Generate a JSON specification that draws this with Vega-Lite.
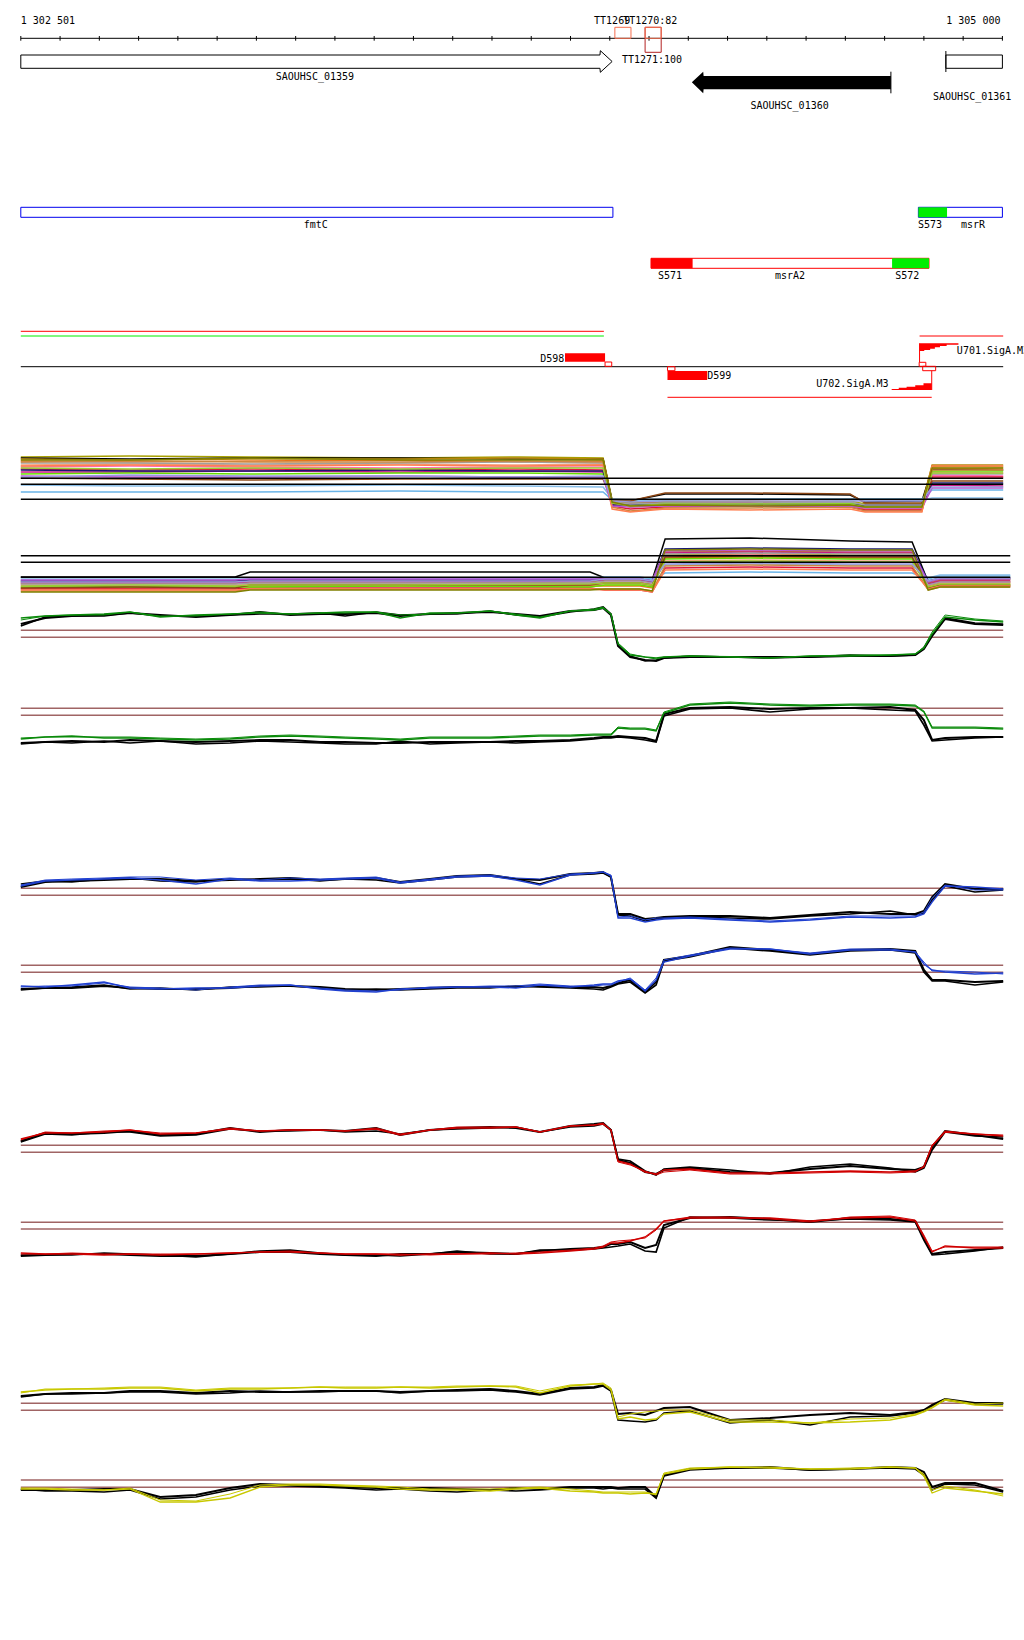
{
"$schema":"https://vega.github.io/schema/vega-lite/v6.json",
"padding":0,
"spacing":0,
"bounds":"flush",
"background":"#ffffff",
"config":{"view":{"stroke":null},"concat":{"spacing":0}},
"resolve":{"scale":{"x":"independent","y":"independent","color":"independent","strokeWidth":"independent"}},
"datasets":{
"ticks":[{"x":1302500,"v":3.6,"v2":4.07},{"x":1302600,"v":3.6,"v2":4.07},{"x":1302700,"v":3.6,"v2":4.07},{"x":1302800,"v":3.6,"v2":4.07},{"x":1302900,"v":3.6,"v2":4.07},{"x":1303000,"v":3.6,"v2":4.07},{"x":1303100,"v":3.6,"v2":4.07},{"x":1303200,"v":3.6,"v2":4.07},{"x":1303300,"v":3.6,"v2":4.07},{"x":1303400,"v":3.6,"v2":4.07},{"x":1303500,"v":3.6,"v2":4.07},{"x":1303600,"v":3.6,"v2":4.07},{"x":1303700,"v":3.6,"v2":4.07},{"x":1303800,"v":3.6,"v2":4.07},{"x":1303900,"v":3.6,"v2":4.07},{"x":1304000,"v":3.6,"v2":4.07},{"x":1304100,"v":3.6,"v2":4.07},{"x":1304200,"v":3.6,"v2":4.07},{"x":1304300,"v":3.6,"v2":4.07},{"x":1304400,"v":3.6,"v2":4.07},{"x":1304500,"v":3.6,"v2":4.07},{"x":1304600,"v":3.6,"v2":4.07},{"x":1304700,"v":3.6,"v2":4.07},{"x":1304800,"v":3.6,"v2":4.07},{"x":1304900,"v":3.6,"v2":4.07},{"x":1305000,"v":3.6,"v2":4.07}],
"segs":[
{"x":1302500,"x2":1305000,"v":3.83,"v2":3.83,"c":"k"},
{"x":1304716,"x2":1304716,"v":7.17,"v2":9.33,"c":"k"},
{"x":1304856,"x2":1304856,"v":5.1,"v2":7.2,"c":"k"},
{"x":1302500,"x2":1303985,"v":33.13,"v2":33.13,"c":"r"},
{"x":1302500,"x2":1303985,"v":33.6,"v2":33.6,"c":"g"},
{"x":1302500,"x2":1305002,"v":36.67,"v2":36.67,"c":"k"},
{"x":1304789,"x2":1305002,"v":33.6,"v2":33.6,"c":"r"},
{"x":1304789,"x2":1304789,"v":34.33,"v2":36.23,"c":"r"},
{"x":1304820,"x2":1304820,"v":37.07,"v2":39.0,"c":"r"},
{"x":1304147,"x2":1304820,"v":39.73,"v2":39.73,"c":"r"}],
"outl":[
{"x":1304090,"x2":1304131,"v":2.73,"v2":5.23,"c":"d"},
{"x":1304013,"x2":1304054,"v":2.73,"v2":3.83,"c":"o"},
{"x":1304090,"x2":1304131,"v":2.73,"v2":3.83,"c":"o"},
{"x":1304856,"x2":1305000,"v":5.5,"v2":6.83,"c":"k"},
{"x":1302500,"x2":1304008,"v":20.73,"v2":21.73,"c":"b"},
{"x":1304786,"x2":1305000,"v":20.73,"v2":21.73,"c":"b"},
{"x":1304105,"x2":1304813,"v":25.83,"v2":26.83,"c":"r"},
{"x":1303988,"x2":1304005,"v":36.2,"v2":36.63,"c":"r"},
{"x":1304147,"x2":1304166,"v":36.67,"v2":37.07,"c":"r"},
{"x":1304788,"x2":1304805,"v":36.23,"v2":36.63,"c":"r"},
{"x":1304797,"x2":1304830,"v":36.63,"v2":37.07,"c":"r"}],
"fills":[
{"x":1304786,"x2":1304859,"v":20.73,"v2":21.73,"c":"g"},
{"x":1304105,"x2":1304211,"v":25.83,"v2":26.83,"c":"r"},
{"x":1304719,"x2":1304813,"v":25.83,"v2":26.83,"c":"g"},
{"x":1303886,"x2":1303988,"v":35.33,"v2":36.17,"c":"r"},
{"x":1304147,"x2":1304248,"v":37.1,"v2":38.0,"c":"r"}],
"arrowA":[{"x":1302500,"v":5.5,"v2":6.83},{"x":1303975,"v":5.5,"v2":6.83},{"x":1303976,"v":5.07,"v2":7.23},{"x":1304006,"v":6.15,"v2":6.15}],
"arrowB":[{"x":1304209,"v":8.23,"v2":8.23},{"x":1304238,"v":7.17,"v2":9.33},{"x":1304239,"v":7.6,"v2":8.93},{"x":1304716,"v":7.6,"v2":8.93}],
"wedges":[
{"id":"U701","x":1304789,"v":34.33,"v2":35.1},{"id":"U701","x":1304801,"v":34.33,"v2":35.0},{"id":"U701","x":1304816,"v":34.33,"v2":34.87},{"id":"U701","x":1304828,"v":34.33,"v2":34.73},{"id":"U701","x":1304841,"v":34.33,"v2":34.6},{"id":"U701","x":1304858,"v":34.33,"v2":34.47},{"id":"U701","x":1304888,"v":34.33,"v2":34.47},
{"id":"U702","x":1304718,"v":38.9,"v2":39.0},{"id":"U702","x":1304736,"v":38.77,"v2":39.0},{"id":"U702","x":1304756,"v":38.67,"v2":39.0},{"id":"U702","x":1304778,"v":38.53,"v2":39.0},{"id":"U702","x":1304799,"v":38.33,"v2":39.0},{"id":"U702","x":1304820,"v":38.33,"v2":39.0}],
"labL":[
{"x":1302500,"v":2.4,"t":"1 302 501"},
{"x":1303960,"v":2.4,"t":"TT1269"},
{"x":1304034,"v":2.4,"t":"TT1270:82"},
{"x":1304031,"v":6.25,"t":"TT1271:100"},
{"x":1304785,"v":22.77,"t":"S573"},
{"x":1304123,"v":27.93,"t":"S571"},
{"x":1304727,"v":27.93,"t":"S572"},
{"x":1304248,"v":37.93,"t":"D599"},
{"x":1304884,"v":35.37,"t":"U701.SigA.M3"}],
"labC":[
{"x":1303249,"v":8.0,"t":"SAOUHSC_01359"},
{"x":1304458,"v":10.9,"t":"SAOUHSC_01360"},
{"x":1304923,"v":10.0,"t":"SAOUHSC_01361"},
{"x":1303251,"v":22.77,"t":"fmtC"},
{"x":1304925,"v":22.77,"t":"msrR"},
{"x":1304459,"v":27.93,"t":"msrA2"}],
"labR":[
{"x":1304995,"v":2.4,"t":"1 305 000"},
{"x":1303884,"v":36.17,"t":"D598"},
{"x":1304710,"v":38.67,"t":"U702.SigA.M3"}],
"thr":[
{"p":"M1","x":1302500,"x2":1305002,"v":4.87},{"p":"M1","x":1302500,"x2":1305002,"v":4.27},{"p":"M1","x":1302500,"x2":1305002,"v":2.77},
{"p":"M2","x":1302500,"x2":1305020,"v":4.23},{"p":"M2","x":1302500,"x2":1305020,"v":3.57},{"p":"M2","x":1302500,"x2":1305020,"v":2.07},
{"p":"G1","x":1302500,"x2":1305002,"v":3.97},{"p":"G1","x":1302500,"x2":1305002,"v":3.27},
{"p":"G2","x":1302500,"x2":1305002,"v":9.17},{"p":"G2","x":1302500,"x2":1305002,"v":8.47},
{"p":"B1","x":1302500,"x2":1305002,"v":4.17},{"p":"B1","x":1302500,"x2":1305002,"v":3.47},
{"p":"B2","x":1302500,"x2":1305002,"v":12.47},{"p":"B2","x":1302500,"x2":1305002,"v":11.77},
{"p":"R1","x":1302500,"x2":1305002,"v":4.47},{"p":"R1","x":1302500,"x2":1305002,"v":3.77},
{"p":"R2","x":1302500,"x2":1305002,"v":11.77},{"p":"R2","x":1302500,"x2":1305002,"v":11.1},
{"p":"Y1","x":1302500,"x2":1305002,"v":3.67},{"p":"Y1","x":1302500,"x2":1305002,"v":2.97},
{"p":"Y2","x":1302500,"x2":1305002,"v":8.0},{"p":"Y2","x":1302500,"x2":1305002,"v":7.27}],
"m1":[
{"x":1302500,"s1":7.0,"s2":6.9,"s3":6.6,"s4":6.8,"s5":6.2,"s6":6.0,"s7":5.8,"s8":5.5,"s9":5.3,"s10":3.5,"s11":4.2,"s12":5.7,"s13":6.4,"s14":4.9,"s15":6.5,"s16":5.1,"s17":6.1,"s18":5.9,"s19":5.0,"s20":6.7},
{"x":1302778,"s1":7.1,"s2":6.8,"s3":6.5,"s4":6.7,"s5":6.3,"s6":6.1,"s7":5.7,"s8":5.5,"s9":5.4,"s10":3.5,"s11":4.1,"s12":5.6,"s13":6.4,"s14":4.8,"s15":6.6,"s16":5.0,"s17":6.2,"s18":5.8,"s19":5.2,"s20":6.7},
{"x":1303084,"s1":7.0,"s2":6.9,"s3":6.6,"s4":6.8,"s5":6.2,"s6":6.0,"s7":5.8,"s8":5.6,"s9":5.3,"s10":3.5,"s11":4.1,"s12":5.6,"s13":6.3,"s14":4.7,"s15":6.5,"s16":5.0,"s17":6.1,"s18":5.9,"s19":5.1,"s20":6.9},
{"x":1303466,"s1":6.9,"s2":6.9,"s3":6.7,"s4":6.8,"s5":6.3,"s6":5.9,"s7":5.7,"s8":5.5,"s9":5.4,"s10":3.6,"s11":4.2,"s12":5.7,"s13":6.4,"s14":4.8,"s15":6.5,"s16":5.1,"s17":6.2,"s18":5.8,"s19":5.1,"s20":6.7},
{"x":1303771,"s1":7.0,"s2":6.8,"s3":6.5,"s4":6.9,"s5":6.2,"s6":6.0,"s7":5.8,"s8":5.6,"s9":5.4,"s10":3.5,"s11":4.1,"s12":5.6,"s13":6.5,"s14":4.8,"s15":6.6,"s16":5.0,"s17":6.1,"s18":5.9,"s19":5.0,"s20":6.7},
{"x":1303983,"s1":6.9,"s2":6.8,"s3":6.6,"s4":6.8,"s5":6.3,"s6":6.0,"s7":5.7,"s8":5.5,"s9":5.3,"s10":3.5,"s11":4.0,"s12":5.6,"s13":6.4,"s14":4.8,"s15":6.5,"s16":5.0,"s17":6.2,"s18":5.9,"s19":5.1,"s20":6.7},
{"x":1304006,"s1":2.7,"s2":2.6,"s3":2.4,"s4":2.5,"s5":2.3,"s6":2.2,"s7":2.1,"s8":2.3,"s9":2.4,"s10":2.7,"s11":2.8,"s12":2.2,"s13":2.5,"s14":2.6,"s15":2.0,"s16":2.1,"s17":1.8,"s18":2.4,"s19":2.6,"s20":2.5},
{"x":1304052,"s1":2.5,"s2":2.6,"s3":2.0,"s4":2.4,"s5":2.2,"s6":2.1,"s7":1.8,"s8":2.3,"s9":2.2,"s10":2.7,"s11":2.7,"s12":2.2,"s13":2.3,"s14":2.6,"s15":1.6,"s16":2.0,"s17":1.5,"s18":2.1,"s19":2.5,"s20":2.1},
{"x":1304141,"s1":2.6,"s2":3.3,"s3":2.2,"s4":2.5,"s5":2.3,"s6":2.3,"s7":2.0,"s8":2.4,"s9":2.4,"s10":2.7,"s11":2.8,"s12":2.3,"s13":2.4,"s14":3.4,"s15":1.9,"s16":2.1,"s17":1.8,"s18":2.3,"s19":2.6,"s20":2.2},
{"x":1304357,"s1":2.5,"s2":3.3,"s3":2.1,"s4":2.6,"s5":2.2,"s6":2.3,"s7":2.1,"s8":2.4,"s9":2.3,"s10":2.8,"s11":2.8,"s12":2.3,"s13":2.4,"s14":3.4,"s15":1.9,"s16":2.1,"s17":1.7,"s18":2.3,"s19":2.6,"s20":2.1},
{"x":1304612,"s1":2.6,"s2":3.2,"s3":2.2,"s4":2.4,"s5":2.3,"s6":2.2,"s7":2.0,"s8":2.3,"s9":2.4,"s10":2.8,"s11":2.7,"s12":2.2,"s13":2.5,"s14":3.3,"s15":2.0,"s16":2.1,"s17":1.8,"s18":2.3,"s19":2.6,"s20":2.2},
{"x":1304650,"s1":2.3,"s2":2.5,"s3":1.8,"s4":2.1,"s5":1.9,"s6":2.0,"s7":1.7,"s8":2.2,"s9":2.1,"s10":2.8,"s11":2.7,"s12":2.2,"s13":2.2,"s14":2.4,"s15":1.6,"s16":1.9,"s17":1.5,"s18":2.0,"s19":2.6,"s20":2.0},
{"x":1304795,"s1":2.3,"s2":2.6,"s3":1.8,"s4":2.2,"s5":1.9,"s6":2.0,"s7":1.7,"s8":2.2,"s9":2.1,"s10":2.8,"s11":2.7,"s12":2.2,"s13":2.2,"s14":2.4,"s15":1.6,"s16":1.9,"s17":1.5,"s18":2.0,"s19":2.6,"s20":2.0},
{"x":1304821,"s1":6.1,"s2":5.8,"s3":5.9,"s4":6.2,"s5":5.5,"s6":5.2,"s7":5.0,"s8":4.2,"s9":5.6,"s10":3.7,"s11":2.9,"s12":4.4,"s13":5.3,"s14":4.6,"s15":5.7,"s16":3.9,"s17":6.1,"s18":5.4,"s19":4.0,"s20":5.9},
{"x":1305002,"s1":6.0,"s2":5.7,"s3":5.8,"s4":6.2,"s5":5.4,"s6":5.1,"s7":5.0,"s8":4.1,"s9":5.6,"s10":3.7,"s11":2.9,"s12":4.4,"s13":5.3,"s14":4.6,"s15":5.7,"s16":3.9,"s17":6.1,"s18":5.4,"s19":4.0,"s20":5.9}],
"m2":[
{"x":1302500,"s1":1.4,"s2":2.1,"s3":1.0,"s4":1.6,"s5":1.3,"s6":1.2,"s7":0.9,"s8":1.5,"s9":1.1,"s10":1.8,"s11":2.0,"s12":1.7,"s13":1.4,"s14":1.0,"s15":0.7,"s16":1.8,"s17":0.8,"s18":1.2,"s19":1.6,"s20":0.6},
{"x":1302778,"s1":1.5,"s2":2.1,"s3":1.0,"s4":1.6,"s5":1.2,"s6":1.2,"s7":0.9,"s8":1.5,"s9":1.1,"s10":1.8,"s11":2.0,"s12":1.7,"s13":1.4,"s14":1.1,"s15":0.7,"s16":1.8,"s17":0.8,"s18":1.3,"s19":1.6,"s20":0.6},
{"x":1303046,"s1":1.4,"s2":2.1,"s3":1.1,"s4":1.6,"s5":1.3,"s6":1.2,"s7":0.9,"s8":1.5,"s9":1.1,"s10":1.8,"s11":2.0,"s12":1.7,"s13":1.4,"s14":1.0,"s15":0.7,"s16":1.8,"s17":0.8,"s18":1.2,"s19":1.6,"s20":0.6},
{"x":1303084,"s1":1.5,"s2":2.6,"s3":1.2,"s4":1.7,"s5":1.4,"s6":1.3,"s7":1.0,"s8":1.6,"s9":1.1,"s10":1.9,"s11":2.0,"s12":1.8,"s13":1.5,"s14":1.3,"s15":0.9,"s16":1.9,"s17":0.9,"s18":1.3,"s19":1.7,"s20":0.8},
{"x":1303466,"s1":1.5,"s2":2.6,"s3":1.2,"s4":1.7,"s5":1.4,"s6":1.3,"s7":1.0,"s8":1.6,"s9":1.2,"s10":1.9,"s11":2.0,"s12":1.8,"s13":1.5,"s14":1.3,"s15":0.9,"s16":1.9,"s17":0.9,"s18":1.3,"s19":1.7,"s20":0.8},
{"x":1303950,"s1":1.6,"s2":2.6,"s3":1.2,"s4":1.8,"s5":1.4,"s6":1.4,"s7":1.0,"s8":1.7,"s9":1.1,"s10":1.9,"s11":2.1,"s12":1.8,"s13":1.5,"s14":1.3,"s15":0.9,"s16":1.9,"s17":0.9,"s18":1.4,"s19":1.7,"s20":0.8},
{"x":1303988,"s1":1.8,"s2":2.0,"s3":1.2,"s4":2.0,"s5":1.4,"s6":1.6,"s7":0.8,"s8":1.8,"s9":1.3,"s10":2.1,"s11":2.0,"s12":1.9,"s13":1.7,"s14":1.5,"s15":0.9,"s16":1.9,"s17":0.8,"s18":1.5,"s19":1.9,"s20":0.9},
{"x":1304077,"s1":1.8,"s2":2.0,"s3":1.2,"s4":2.0,"s5":1.4,"s6":1.6,"s7":0.8,"s8":1.8,"s9":1.3,"s10":2.1,"s11":2.0,"s12":1.9,"s13":1.7,"s14":1.5,"s15":0.9,"s16":1.9,"s17":0.8,"s18":1.5,"s19":1.9,"s20":0.9},
{"x":1304108,"s1":1.6,"s2":1.8,"s3":1.0,"s4":1.8,"s5":1.2,"s6":1.4,"s7":0.6,"s8":1.6,"s9":1.1,"s10":1.9,"s11":1.8,"s12":1.7,"s13":1.5,"s14":1.3,"s15":0.7,"s16":1.7,"s17":0.6,"s18":1.3,"s19":1.7,"s20":0.7},
{"x":1304141,"s1":4.3,"s2":5.9,"s3":4.0,"s4":4.6,"s5":3.7,"s6":4.2,"s7":3.0,"s8":4.5,"s9":3.9,"s10":2.5,"s11":3.3,"s12":4.9,"s13":4.4,"s14":4.1,"s15":3.2,"s16":4.7,"s17":2.8,"s18":3.6,"s19":3.4,"s20":4.8},
{"x":1304357,"s1":4.4,"s2":6.0,"s3":4.1,"s4":4.7,"s5":3.8,"s6":4.3,"s7":3.1,"s8":4.6,"s9":4.0,"s10":2.6,"s11":3.4,"s12":5.0,"s13":4.5,"s14":4.2,"s15":3.3,"s16":4.8,"s17":2.9,"s18":3.7,"s19":3.5,"s20":4.9},
{"x":1304612,"s1":4.3,"s2":5.7,"s3":4.0,"s4":4.6,"s5":3.7,"s6":4.2,"s7":3.0,"s8":4.5,"s9":3.9,"s10":2.5,"s11":3.3,"s12":4.9,"s13":4.4,"s14":4.1,"s15":3.2,"s16":4.7,"s17":2.8,"s18":3.6,"s19":3.4,"s20":4.8},
{"x":1304770,"s1":4.3,"s2":5.6,"s3":4.0,"s4":4.6,"s5":3.7,"s6":4.2,"s7":3.0,"s8":4.5,"s9":3.9,"s10":2.5,"s11":3.3,"s12":4.9,"s13":4.4,"s14":4.1,"s15":3.2,"s16":4.7,"s17":2.8,"s18":3.6,"s19":3.4,"s20":4.8},
{"x":1304811,"s1":1.3,"s2":1.6,"s3":1.2,"s4":1.5,"s5":1.1,"s6":1.3,"s7":0.9,"s8":1.4,"s9":1.0,"s10":1.9,"s11":2.0,"s12":1.7,"s13":1.3,"s14":1.0,"s15":0.8,"s16":1.6,"s17":0.9,"s18":1.1,"s19":1.7,"s20":0.8},
{"x":1304841,"s1":1.6,"s2":1.9,"s3":1.5,"s4":1.8,"s5":1.4,"s6":1.6,"s7":1.2,"s8":1.7,"s9":1.3,"s10":2.2,"s11":2.3,"s12":2.0,"s13":1.6,"s14":1.3,"s15":1.1,"s16":1.9,"s17":1.2,"s18":1.4,"s19":2.0,"s20":1.1},
{"x":1305020,"s1":1.6,"s2":1.9,"s3":1.5,"s4":1.8,"s5":1.4,"s6":1.6,"s7":1.2,"s8":1.7,"s9":1.3,"s10":2.2,"s11":2.3,"s12":2.0,"s13":1.6,"s14":1.3,"s15":1.1,"s16":1.9,"s17":1.2,"s18":1.4,"s19":2.0,"s20":1.1}],
"tr":[
{"x":1302500,"G1k":4.6,"G1t":4.4,"G1u":5.2,"G1c":5.0,"G2k":5.7,"G2t":5.6,"G2u":6.1,"G2c":6.2,"B1k":4.3,"B1t":4.6,"B1u":4.4,"B1c":4.5,"B2k":10.1,"B2t":10.0,"B2u":10.4,"B2c":10.3,"R1k":4.9,"R1t":4.8,"R1u":5.1,"R1c":5.0,"R2k":8.4,"R2t":8.5,"R2u":8.7,"R2c":8.6,"Y1k":4.4,"Y1t":4.3,"Y1u":4.8,"Y1c":4.7,"Y2k":7.0,"Y2t":7.1,"Y2u":7.1,"Y2c":7.2},
{"x":1302562,"G1k":5.2,"G1t":5.3,"G1u":5.4,"G1c":5.4,"G2k":5.8,"G2t":5.8,"G2u":6.3,"G2c":6.3,"B1k":4.8,"B1t":4.9,"B1u":4.9,"B1c":5.0,"B2k":10.2,"B2t":10.2,"B2u":10.3,"B2c":10.4,"R1k":5.7,"R1t":5.6,"R1u":5.7,"R1c":5.8,"R2k":8.5,"R2t":8.5,"R2u":8.6,"R2c":8.6,"Y1k":4.6,"Y1t":4.6,"Y1u":5.0,"Y1c":5.1,"Y2k":7.0,"Y2t":6.9,"Y2u":7.1,"Y2c":7.2},
{"x":1302630,"G1k":5.4,"G1t":5.4,"G1u":5.5,"G1c":5.5,"G2k":5.9,"G2t":5.7,"G2u":6.4,"G2c":6.3,"B1k":4.9,"B1t":4.8,"B1u":5.0,"B1c":5.1,"B2k":10.2,"B2t":10.3,"B2u":10.5,"B2c":10.4,"R1k":5.6,"R1t":5.5,"R1u":5.7,"R1c":5.7,"R2k":8.6,"R2t":8.5,"R2u":8.6,"R2c":8.7,"Y1k":4.7,"Y1t":4.6,"Y1u":5.1,"Y1c":5.1,"Y2k":7.0,"Y2t":6.9,"Y2u":7.0,"Y2c":7.1},
{"x":1302712,"G1k":5.5,"G1t":5.4,"G1u":5.6,"G1c":5.5,"G2k":5.8,"G2t":5.9,"G2u":6.2,"G2c":6.3,"B1k":5.0,"B1t":5.1,"B1u":5.1,"B1c":5.2,"B2k":10.4,"B2t":10.5,"B2u":10.8,"B2c":10.7,"R1k":5.7,"R1t":5.8,"R1u":5.8,"R1c":5.9,"R2k":8.6,"R2t":8.7,"R2u":8.5,"R2c":8.6,"Y1k":4.7,"Y1t":4.7,"Y1u":5.1,"Y1c":5.2,"Y2k":7.1,"Y2t":6.8,"Y2u":7.0,"Y2c":7.0},
{"x":1302778,"G1k":5.7,"G1t":5.7,"G1u":5.8,"G1c":5.8,"G2k":6.0,"G2t":5.7,"G2u":6.2,"G2c":6.3,"B1k":5.1,"B1t":5.2,"B1u":5.2,"B1c":5.3,"B2k":10.2,"B2t":10.1,"B2u":10.2,"B2c":10.3,"R1k":5.9,"R1t":5.8,"R1u":6.0,"R1c":6.0,"R2k":8.5,"R2t":8.6,"R2u":8.6,"R2c":8.6,"Y1k":4.9,"Y1t":4.8,"Y1u":5.2,"Y1c":5.3,"Y2k":7.1,"Y2t":7.0,"Y2u":7.1,"Y2c":7.2},
{"x":1302855,"G1k":5.5,"G1t":5.4,"G1u":5.3,"G1c":5.4,"G2k":5.9,"G2t":5.9,"G2u":6.1,"G2c":6.2,"B1k":5.1,"B1t":4.9,"B1u":5.0,"B1c":5.3,"B2k":10.1,"B2t":10.2,"B2u":10.1,"B2c":10.2,"R1k":5.5,"R1t":5.4,"R1u":5.6,"R1c":5.7,"R2k":8.4,"R2t":8.5,"R2u":8.5,"R2c":8.6,"Y1k":4.9,"Y1t":4.8,"Y1u":5.2,"Y1c":5.3,"Y2k":6.3,"Y2t":6.1,"Y2u":5.8,"Y2c":6.0},
{"x":1302946,"G1k":5.3,"G1t":5.4,"G1u":5.5,"G1c":5.4,"G2k":5.8,"G2t":5.6,"G2u":6.0,"G2c":6.1,"B1k":4.9,"B1t":4.8,"B1u":4.6,"B1c":5.0,"B2k":10.1,"B2t":10.0,"B2u":10.2,"B2c":10.0,"R1k":5.6,"R1t":5.5,"R1u":5.7,"R1c":5.7,"R2k":8.4,"R2t":8.3,"R2u":8.6,"R2c":8.6,"Y1k":4.7,"Y1t":4.6,"Y1u":4.9,"Y1c":5.0,"Y2k":6.5,"Y2t":6.3,"Y2u":5.8,"Y2c":5.9},
{"x":1303033,"G1k":5.5,"G1t":5.5,"G1u":5.6,"G1c":5.6,"G2k":5.9,"G2t":5.7,"G2u":6.1,"G2c":6.2,"B1k":5.0,"B1t":5.1,"B1u":5.1,"B1c":5.2,"B2k":10.2,"B2t":10.3,"B2u":10.2,"B2c":10.3,"R1k":6.2,"R1t":6.1,"R1u":6.1,"R1c":6.2,"R2k":8.6,"R2t":8.6,"R2u":8.7,"R2c":8.7,"Y1k":4.9,"Y1t":4.7,"Y1u":5.1,"Y1c":5.2,"Y2k":7.2,"Y2t":7.0,"Y2u":6.2,"Y2c":6.6},
{"x":1303109,"G1k":5.8,"G1t":5.6,"G1u":5.7,"G1c":5.8,"G2k":6.0,"G2t":5.9,"G2u":6.3,"G2c":6.4,"B1k":5.1,"B1t":5.0,"B1u":4.9,"B1c":5.0,"B2k":10.4,"B2t":10.3,"B2u":10.4,"B2c":10.5,"R1k":5.8,"R1t":5.9,"R1u":5.9,"R1c":5.9,"R2k":8.8,"R2t":8.9,"R2u":8.8,"R2c":8.8,"Y1k":4.8,"Y1t":4.9,"Y1u":5.1,"Y1c":5.2,"Y2k":7.6,"Y2t":7.4,"Y2u":7.3,"Y2c":7.5},
{"x":1303186,"G1k":5.5,"G1t":5.6,"G1u":5.6,"G1c":5.6,"G2k":6.0,"G2t":5.8,"G2u":6.4,"G2c":6.5,"B1k":5.2,"B1t":5.1,"B1u":4.9,"B1c":5.2,"B2k":10.4,"B2t":10.4,"B2u":10.5,"B2c":10.5,"R1k":6.0,"R1t":5.9,"R1u":6.0,"R1c":6.0,"R2k":8.8,"R2t":9.0,"R2u":8.8,"R2c":8.9,"Y1k":4.8,"Y1t":4.8,"Y1u":5.2,"Y1c":5.2,"Y2k":7.5,"Y2t":7.4,"Y2u":7.5,"Y2c":7.6},
{"x":1303262,"G1k":5.6,"G1t":5.7,"G1u":5.7,"G1c":5.7,"G2k":5.8,"G2t":5.7,"G2u":6.3,"G2c":6.4,"B1k":5.0,"B1t":4.9,"B1u":5.0,"B1c":5.1,"B2k":10.3,"B2t":10.2,"B2u":10.1,"B2c":10.2,"R1k":6.0,"R1t":6.0,"R1u":6.0,"R1c":6.0,"R2k":8.6,"R2t":8.7,"R2u":8.7,"R2c":8.7,"Y1k":4.9,"Y1t":4.8,"Y1u":5.3,"Y1c":5.3,"Y2k":7.4,"Y2t":7.3,"Y2u":7.5,"Y2c":7.6},
{"x":1303326,"G1k":5.6,"G1t":5.4,"G1u":5.8,"G1c":5.7,"G2k":5.8,"G2t":5.6,"G2u":6.2,"G2c":6.3,"B1k":5.1,"B1t":5.1,"B1u":5.1,"B1c":5.2,"B2k":10.1,"B2t":10.0,"B2u":9.9,"B2c":10.0,"R1k":5.9,"R1t":5.8,"R1u":5.9,"R1c":5.9,"R2k":8.5,"R2t":8.5,"R2u":8.6,"R2c":8.6,"Y1k":4.9,"Y1t":4.9,"Y1u":5.2,"Y1c":5.3,"Y2k":7.3,"Y2t":7.2,"Y2u":7.4,"Y2c":7.5},
{"x":1303405,"G1k":5.7,"G1t":5.8,"G1u":5.8,"G1c":5.8,"G2k":5.7,"G2t":5.6,"G2u":6.1,"G2c":6.2,"B1k":5.2,"B1t":5.0,"B1u":5.2,"B1c":5.3,"B2k":10.0,"B2t":10.1,"B2u":9.8,"B2c":9.9,"R1k":6.2,"R1t":5.9,"R1u":6.1,"R1c":6.2,"R2k":8.4,"R2t":8.5,"R2u":8.6,"R2c":8.6,"Y1k":4.9,"Y1t":4.9,"Y1u":5.2,"Y1c":5.3,"Y2k":7.2,"Y2t":7.0,"Y2u":7.3,"Y2c":7.4},
{"x":1303466,"G1k":5.4,"G1t":5.5,"G1u":5.2,"G1c":5.5,"G2k":5.7,"G2t":5.9,"G2u":6.0,"G2c":6.1,"B1k":4.8,"B1t":4.7,"B1u":4.7,"B1c":4.8,"B2k":10.1,"B2t":10.0,"B2u":10.1,"B2c":10.0,"R1k":5.5,"R1t":5.6,"R1u":5.5,"R1c":5.6,"R2k":8.6,"R2t":8.4,"R2u":8.5,"R2c":8.6,"Y1k":4.8,"Y1t":4.7,"Y1u":5.3,"Y1c":5.3,"Y2k":7.2,"Y2t":7.1,"Y2u":7.1,"Y2c":7.3},
{"x":1303542,"G1k":5.6,"G1t":5.6,"G1u":5.7,"G1c":5.6,"G2k":5.8,"G2t":5.6,"G2u":6.2,"G2c":6.3,"B1k":5.1,"B1t":5.0,"B1u":5.0,"B1c":5.1,"B2k":10.2,"B2t":10.1,"B2u":10.2,"B2c":10.3,"R1k":6.0,"R1t":6.0,"R1u":6.0,"R1c":6.0,"R2k":8.6,"R2t":8.6,"R2u":8.6,"R2c":8.5,"Y1k":4.9,"Y1t":4.9,"Y1u":5.2,"Y1c":5.3,"Y2k":7.2,"Y2t":6.9,"Y2u":7.0,"Y2c":7.1},
{"x":1303611,"G1k":5.7,"G1t":5.6,"G1u":5.7,"G1c":5.7,"G2k":5.8,"G2t":5.7,"G2u":6.2,"G2c":6.3,"B1k":5.4,"B1t":5.3,"B1u":5.3,"B1c":5.4,"B2k":10.3,"B2t":10.2,"B2u":10.3,"B2c":10.3,"R1k":6.2,"R1t":6.1,"R1u":6.2,"R1c":6.3,"R2k":8.8,"R2t":8.9,"R2u":8.6,"R2c":8.6,"Y1k":5.0,"Y1t":4.9,"Y1u":5.3,"Y1c":5.4,"Y2k":7.1,"Y2t":6.8,"Y2u":7.0,"Y2c":7.1},
{"x":1303695,"G1k":5.8,"G1t":5.9,"G1u":5.9,"G1c":5.9,"G2k":5.8,"G2t":5.8,"G2u":6.2,"G2c":6.3,"B1k":5.5,"B1t":5.4,"B1u":5.4,"B1c":5.5,"B2k":10.3,"B2t":10.2,"B2u":10.3,"B2c":10.4,"R1k":6.3,"R1t":6.2,"R1u":6.2,"R1c":6.3,"R2k":8.7,"R2t":8.6,"R2u":8.7,"R2c":8.6,"Y1k":5.1,"Y1t":5.0,"Y1u":5.4,"Y1c":5.4,"Y2k":7.0,"Y2t":7.0,"Y2u":6.9,"Y2c":7.1},
{"x":1303761,"G1k":5.6,"G1t":5.5,"G1u":5.5,"G1c":5.6,"G2k":5.9,"G2t":5.7,"G2u":6.3,"G2c":6.4,"B1k":5.1,"B1t":5.1,"B1u":5.0,"B1c":5.2,"B2k":10.3,"B2t":10.4,"B2u":10.2,"B2c":10.4,"R1k":6.2,"R1t":6.3,"R1u":6.3,"R1c":6.3,"R2k":8.6,"R2t":8.6,"R2u":8.6,"R2c":8.7,"Y1k":4.9,"Y1t":4.8,"Y1u":5.3,"Y1c":5.4,"Y2k":7.2,"Y2t":6.9,"Y2u":7.1,"Y2c":7.2},
{"x":1303822,"G1k":5.4,"G1t":5.3,"G1u":5.2,"G1c":5.3,"G2k":5.9,"G2t":5.8,"G2u":6.4,"G2c":6.5,"B1k":5.0,"B1t":4.6,"B1u":4.5,"B1c":5.1,"B2k":10.4,"B2t":10.3,"B2u":10.5,"B2c":10.6,"R1k":5.8,"R1t":5.8,"R1u":5.8,"R1c":5.8,"R2k":8.9,"R2t":9.0,"R2u":8.7,"R2c":8.8,"Y1k":4.6,"Y1t":4.5,"Y1u":4.7,"Y1c":4.9,"Y2k":7.1,"Y2t":7.0,"Y2u":7.2,"Y2c":7.3},
{"x":1303899,"G1k":5.9,"G1t":5.8,"G1u":5.9,"G1c":5.9,"G2k":6.0,"G2t":5.9,"G2u":6.4,"G2c":6.5,"B1k":5.6,"B1t":5.5,"B1u":5.5,"B1c":5.6,"B2k":10.3,"B2t":10.2,"B2u":10.3,"B2c":10.4,"R1k":6.4,"R1t":6.3,"R1u":6.4,"R1c":6.4,"R2k":9.1,"R2t":9.0,"R2u":8.9,"R2c":9.0,"Y1k":5.2,"Y1t":5.1,"Y1u":5.4,"Y1c":5.5,"Y2k":7.3,"Y2t":7.2,"Y2u":6.9,"Y2c":7.1},
{"x":1303960,"G1k":6.0,"G1t":6.1,"G1u":6.0,"G1c":6.1,"G2k":6.2,"G2t":6.1,"G2u":6.5,"G2c":6.6,"B1k":5.7,"B1t":5.6,"B1u":5.7,"B1c":5.7,"B2k":10.3,"B2t":10.1,"B2u":10.5,"B2c":10.4,"R1k":6.6,"R1t":6.4,"R1u":6.5,"R1c":6.5,"R2k":9.2,"R2t":9.1,"R2u":9.1,"R2c":9.2,"Y1k":5.3,"Y1t":5.2,"Y1u":5.6,"Y1c":5.6,"Y2k":7.3,"Y2t":7.2,"Y2u":6.8,"Y2c":6.9},
{"x":1303983,"G1k":6.2,"G1t":6.3,"G1u":6.2,"G1c":6.3,"G2k":6.3,"G2t":6.2,"G2u":6.5,"G2c":6.6,"B1k":5.8,"B1t":5.7,"B1u":5.8,"B1c":5.8,"B2k":10.2,"B2t":10.0,"B2u":10.6,"B2c":10.5,"R1k":6.7,"R1t":6.6,"R1u":6.6,"R1c":6.7,"R2k":9.3,"R2t":9.2,"R2u":9.3,"R2c":9.4,"Y1k":5.5,"Y1t":5.4,"Y1u":5.6,"Y1c":5.7,"Y2k":7.3,"Y2t":7.1,"Y2u":6.7,"Y2c":6.8},
{"x":1304003,"G1k":5.5,"G1t":5.6,"G1u":5.6,"G1c":5.6,"G2k":6.3,"G2t":6.2,"G2u":6.5,"G2c":6.6,"B1k":5.3,"B1t":5.3,"B1u":5.4,"B1c":5.5,"B2k":10.4,"B2t":10.3,"B2u":10.6,"B2c":10.5,"R1k":6.0,"R1t":6.0,"R1u":6.0,"R1c":6.0,"R2k":9.6,"R2t":9.3,"R2u":9.7,"R2c":9.8,"Y1k":5.0,"Y1t":4.9,"Y1u":5.0,"Y1c":5.2,"Y2k":7.3,"Y2t":7.2,"Y2u":6.7,"Y2c":6.8},
{"x":1304021,"G1k":2.4,"G1t":2.5,"G1u":2.6,"G1c":2.7,"G2k":6.4,"G2t":6.3,"G2u":7.2,"G2c":7.3,"B1k":1.6,"B1t":1.5,"B1u":1.2,"B1c":1.3,"B2k":10.7,"B2t":10.6,"B2u":10.9,"B2c":10.8,"R1k":3.0,"R1t":3.1,"R1u":2.9,"R1c":2.8,"R2k":9.6,"R2t":9.4,"R2u":9.7,"R2c":9.9,"Y1k":2.6,"Y1t":2.0,"Y1u":2.1,"Y1c":2.3,"Y2k":7.2,"Y2t":7.1,"Y2u":6.7,"Y2c":6.8},
{"x":1304052,"G1k":1.3,"G1t":1.4,"G1u":1.5,"G1c":1.6,"G2k":6.3,"G2t":6.2,"G2u":7.1,"G2c":7.2,"B1k":1.6,"B1t":1.4,"B1u":1.2,"B1c":1.4,"B2k":11.0,"B2t":10.8,"B2u":11.1,"B2c":11.2,"R1k":2.7,"R1t":2.9,"R1u":2.6,"R1c":2.5,"R2k":9.8,"R2t":9.6,"R2u":9.9,"R2c":10.0,"Y1k":2.7,"Y1t":1.9,"Y1u":2.3,"Y1c":2.6,"Y2k":7.3,"Y2t":7.1,"Y2u":6.6,"Y2c":6.8},
{"x":1304090,"G1k":1.0,"G1t":0.9,"G1u":1.3,"G1c":1.3,"G2k":6.2,"G2t":6.0,"G2u":7.1,"G2c":7.2,"B1k":1.1,"B1t":0.9,"B1u":0.8,"B1c":1.0,"B2k":9.8,"B2t":9.7,"B2u":9.9,"B2c":10.0,"R1k":1.8,"R1t":1.9,"R1u":1.8,"R1c":1.9,"R2k":9.2,"R2t":8.9,"R2u":10.3,"R2c":10.2,"Y1k":2.5,"Y1t":1.8,"Y1u":2.0,"Y1c":2.8,"Y2k":7.3,"Y2t":7.1,"Y2u":6.7,"Y2c":6.8},
{"x":1304118,"G1k":0.9,"G1t":1.0,"G1u":1.2,"G1c":1.1,"G2k":5.9,"G2t":5.8,"G2u":6.9,"G2c":7.0,"B1k":1.2,"B1t":1.1,"B1u":1.0,"B1c":1.2,"B2k":10.8,"B2t":10.5,"B2u":11.0,"B2c":11.2,"R1k":1.6,"R1t":1.5,"R1u":1.6,"R1c":1.5,"R2k":9.5,"R2t":8.8,"R2u":11.1,"R2c":11.0,"Y1k":2.9,"Y1t":2.0,"Y1u":2.1,"Y1c":2.9,"Y2k":6.3,"Y2t":6.2,"Y2u":6.6,"Y2c":6.5},
{"x":1304138,"G1k":1.2,"G1t":1.2,"G1u":1.3,"G1c":1.3,"G2k":8.6,"G2t":8.4,"G2u":8.7,"G2c":8.8,"B1k":1.3,"B1t":1.2,"B1u":1.1,"B1c":1.2,"B2k":13.0,"B2t":12.9,"B2u":12.8,"B2c":13.0,"R1k":2.0,"R1t":2.1,"R1u":2.0,"R1c":1.8,"R2k":11.5,"R2t":11.2,"R2u":11.9,"R2c":11.9,"Y1k":3.2,"Y1t":2.7,"Y1u":2.6,"Y1c":3.0,"Y2k":8.5,"Y2t":8.4,"Y2u":8.6,"Y2c":8.7},
{"x":1304204,"G1k":1.3,"G1t":1.4,"G1u":1.4,"G1c":1.4,"G2k":9.2,"G2t":9.1,"G2u":9.5,"G2c":9.6,"B1k":1.4,"B1t":1.3,"B1u":1.2,"B1c":1.3,"B2k":13.4,"B2t":13.3,"B2u":13.4,"B2c":13.5,"R1k":2.2,"R1t":2.3,"R1u":2.1,"R1c":2.0,"R2k":12.2,"R2t":12.3,"R2u":12.2,"R2c":12.3,"Y1k":3.3,"Y1t":2.9,"Y1u":2.8,"Y1c":3.0,"Y2k":9.1,"Y2t":9.0,"Y2u":9.1,"Y2c":9.2},
{"x":1304306,"G1k":1.3,"G1t":1.3,"G1u":1.3,"G1c":1.35,"G2k":9.3,"G2t":9.2,"G2u":9.7,"G2c":9.8,"B1k":1.4,"B1t":1.2,"B1u":1.0,"B1c":1.1,"B2k":14.3,"B2t":14.2,"B2u":14.1,"B2c":14.2,"R1k":1.8,"R1t":2.0,"R1u":1.7,"R1c":1.6,"R2k":12.3,"R2t":12.2,"R2u":12.2,"R2c":12.3,"Y1k":2.0,"Y1t":1.7,"Y1u":1.8,"Y1c":2.0,"Y2k":9.2,"Y2t":9.2,"Y2u":9.3,"Y2c":9.3},
{"x":1304408,"G1k":1.3,"G1t":1.2,"G1u":1.2,"G1c":1.2,"G2k":9.1,"G2t":8.8,"G2u":9.5,"G2c":9.6,"B1k":1.2,"B1t":1.1,"B1u":0.8,"B1c":0.9,"B2k":14.0,"B2t":13.9,"B2u":14.1,"B2c":14.1,"R1k":1.7,"R1t":1.6,"R1u":1.7,"R1c":1.6,"R2k":12.1,"R2t":12.0,"R2u":12.2,"R2c":12.1,"Y1k":2.2,"Y1t":2.0,"Y1u":1.8,"Y1c":2.0,"Y2k":9.3,"Y2t":9.2,"Y2u":9.2,"Y2c":9.3},
{"x":1304510,"G1k":1.3,"G1t":1.3,"G1u":1.4,"G1c":1.4,"G2k":9.2,"G2t":9.1,"G2u":9.4,"G2c":9.5,"B1k":1.5,"B1t":1.4,"B1u":1.0,"B1c":1.1,"B2k":13.6,"B2t":13.5,"B2u":13.6,"B2c":13.7,"R1k":2.1,"R1t":2.3,"R1u":1.8,"R1c":1.7,"R2k":11.8,"R2t":11.9,"R2u":11.9,"R2c":11.8,"Y1k":2.5,"Y1t":1.5,"Y1u":1.7,"Y1c":1.7,"Y2k":9.0,"Y2t":9.0,"Y2u":9.1,"Y2c":9.1},
{"x":1304612,"G1k":1.4,"G1t":1.5,"G1u":1.4,"G1c":1.5,"G2k":9.2,"G2t":9.2,"G2u":9.5,"G2c":9.6,"B1k":1.8,"B1t":1.6,"B1u":1.3,"B1c":1.4,"B2k":14.0,"B2t":13.9,"B2u":14.0,"B2c":14.1,"R1k":2.4,"R1t":2.6,"R1u":1.9,"R1c":1.8,"R2k":12.2,"R2t":12.1,"R2u":12.2,"R2c":12.3,"Y1k":2.7,"Y1t":2.3,"Y1u":1.8,"Y1c":2.1,"Y2k":9.1,"Y2t":9.1,"Y2u":9.1,"Y2c":9.2},
{"x":1304714,"G1k":1.4,"G1t":1.4,"G1u":1.5,"G1c":1.5,"G2k":9.3,"G2t":9.0,"G2u":9.5,"G2c":9.6,"B1k":1.6,"B1t":1.9,"B1u":1.2,"B1c":1.4,"B2k":14.1,"B2t":14.0,"B2u":14.0,"B2c":14.1,"R1k":2.1,"R1t":2.2,"R1u":1.8,"R1c":1.7,"R2k":12.1,"R2t":12.0,"R2u":12.3,"R2c":12.4,"Y1k":2.5,"Y1t":2.4,"Y1u":2.0,"Y1c":2.2,"Y2k":9.3,"Y2t":9.2,"Y2u":9.3,"Y2c":9.3},
{"x":1304778,"G1k":1.5,"G1t":1.5,"G1u":1.6,"G1c":1.6,"G2k":9.0,"G2t":8.9,"G2u":9.4,"G2c":9.5,"B1k":1.6,"B1t":1.5,"B1u":1.3,"B1c":1.4,"B2k":13.9,"B2t":13.7,"B2u":13.8,"B2c":13.8,"R1k":2.0,"R1t":1.8,"R1u":1.9,"R1c":1.8,"R2k":11.9,"R2t":11.8,"R2u":11.9,"R2c":12.0,"Y1k":2.8,"Y1t":2.7,"Y1u":2.5,"Y1c":2.6,"Y2k":9.2,"Y2t":9.1,"Y2u":9.2,"Y2c":9.2},
{"x":1304800,"G1k":2.1,"G1t":2.2,"G1u":2.2,"G1c":2.3,"G2k":8.0,"G2t":7.5,"G2u":8.8,"G2c":8.9,"B1k":1.9,"B1t":1.7,"B1u":1.6,"B1c":1.8,"B2k":12.0,"B2t":11.8,"B2u":12.6,"B2c":12.8,"R1k":2.3,"R1t":2.2,"R1u":2.3,"R1c":2.4,"R2k":10.2,"R2t":10.0,"R2u":10.3,"R2c":10.5,"Y1k":3.0,"Y1t":2.9,"Y1u":2.8,"Y1c":2.9,"Y2k":8.8,"Y2t":8.5,"Y2u":8.4,"Y2c":8.6},
{"x":1304821,"G1k":3.4,"G1t":3.5,"G1u":3.6,"G1c":3.8,"G2k":6.0,"G2t":5.9,"G2u":7.2,"G2c":7.3,"B1k":3.3,"B1t":3.0,"B1u":2.8,"B1c":3.2,"B2k":11.0,"B2t":10.9,"B2u":12.0,"B2c":11.9,"R1k":4.3,"R1t":4.0,"R1u":4.4,"R1c":4.5,"R2k":8.6,"R2t":8.5,"R2u":8.8,"R2c":8.9,"Y1k":3.5,"Y1t":3.4,"Y1u":3.2,"Y1c":3.3,"Y2k":7.3,"Y2t":7.0,"Y2u":6.7,"Y2c":7.0},
{"x":1304854,"G1k":5.1,"G1t":5.2,"G1u":5.3,"G1c":5.5,"G2k":6.2,"G2t":6.0,"G2u":7.2,"G2c":7.3,"B1k":4.6,"B1t":4.4,"B1u":4.4,"B1c":4.5,"B2k":11.0,"B2t":10.9,"B2u":11.8,"B2c":11.9,"R1k":5.9,"R1t":5.8,"R1u":5.8,"R1c":5.9,"R2k":8.8,"R2t":8.6,"R2u":9.4,"R2c":9.3,"Y1k":4.1,"Y1t":4.0,"Y1u":4.0,"Y1c":4.1,"Y2k":7.7,"Y2t":7.6,"Y2u":7.2,"Y2c":7.4},
{"x":1304930,"G1k":4.6,"G1t":4.7,"G1u":5.0,"G1c":5.1,"G2k":6.3,"G2t":6.2,"G2u":7.2,"G2c":7.3,"B1k":4.1,"B1t":3.8,"B1u":4.3,"B1c":4.0,"B2k":10.8,"B2t":10.5,"B2u":11.6,"B2c":11.8,"R1k":5.5,"R1t":5.4,"R1u":5.6,"R1c":5.6,"R2k":9.0,"R2t":8.9,"R2u":9.2,"R2c":9.3,"Y1k":3.7,"Y1t":3.6,"Y1u":3.5,"Y1c":3.6,"Y2k":7.7,"Y2t":7.5,"Y2u":6.9,"Y2c":7.0},
{"x":1305002,"G1k":4.5,"G1t":4.6,"G1u":4.8,"G1c":4.9,"G2k":6.3,"G2t":6.3,"G2u":7.1,"G2c":7.2,"B1k":4.1,"B1t":4.0,"B1u":4.1,"B1c":4.0,"B2k":10.9,"B2t":10.8,"B2u":11.7,"B2c":11.6,"R1k":5.1,"R1t":5.3,"R1u":5.4,"R1c":5.5,"R2k":9.2,"R2t":9.3,"R2u":9.2,"R2c":9.3,"Y1k":3.7,"Y1t":3.6,"Y1u":3.4,"Y1c":3.7,"Y2k":6.9,"Y2t":6.8,"Y2u":6.6,"Y2c":6.4}]
},
"vconcat":[
{"width":1024,"height":420,
 "encoding":{"x":{"field":"x","type":"quantitative","scale":{"domain":[1302447,1305055],"nice":false,"zero":false},"axis":null},
  "y":{"field":"v","type":"quantitative","scale":{"domain":[0,42],"reverse":true,"nice":false,"zero":false},"axis":null}},
 "layer":[
  {"data":{"name":"segs"},"mark":{"type":"rule","strokeWidth":1},"encoding":{"x2":{"field":"x2"},"y2":{"field":"v2"},"color":{"field":"c","type":"nominal","scale":{"domain":["k","r","g","b","o","d"],"range":["#000000","#ff0000","#00ee00","#0000ee","#f46d4e","#b22222"]},"legend":null}}},
  {"data":{"name":"ticks"},"mark":{"type":"rule","color":"#000000","strokeWidth":1},"encoding":{"y2":{"field":"v2"}}},
  {"data":{"name":"outl"},"mark":{"type":"rect","filled":false,"strokeWidth":1},"encoding":{"x2":{"field":"x2"},"y2":{"field":"v2"},"color":{"field":"c","type":"nominal","scale":{"domain":["k","r","g","b","o","d"],"range":["#000000","#ff0000","#00ee00","#0000ee","#f46d4e","#b22222"]},"legend":null}}},
  {"data":{"name":"fills"},"mark":{"type":"rect","filled":true},"encoding":{"x2":{"field":"x2"},"y2":{"field":"v2"},"color":{"field":"c","type":"nominal","scale":{"domain":["k","r","g","b","o","d"],"range":["#000000","#ff0000","#00ee00","#0000ee","#f46d4e","#b22222"]},"legend":null}}},
  {"data":{"name":"arrowA"},"mark":{"type":"area","fill":"#ffffff","stroke":"#000000","strokeWidth":1},"encoding":{"y":{"field":"v","type":"quantitative","stack":null,"scale":{"domain":[0,42],"reverse":true,"nice":false,"zero":false},"axis":null},"y2":{"field":"v2"}}},
  {"data":{"name":"arrowB"},"mark":{"type":"area","fill":"#000000"},"encoding":{"y":{"field":"v","type":"quantitative","stack":null,"scale":{"domain":[0,42],"reverse":true,"nice":false,"zero":false},"axis":null},"y2":{"field":"v2"}}},
  {"data":{"name":"wedges"},"mark":{"type":"area","fill":"#ff0000","interpolate":"step-after"},"encoding":{"y":{"field":"v","type":"quantitative","stack":null,"scale":{"domain":[0,42],"reverse":true,"nice":false,"zero":false},"axis":null},"y2":{"field":"v2"},"detail":{"field":"id"}}},
  {"data":{"name":"labL"},"mark":{"type":"text","align":"left","baseline":"alphabetic","font":"DejaVu Sans Mono","fontSize":10,"color":"#000000","clip":true},"encoding":{"text":{"field":"t"}}},
  {"data":{"name":"labC"},"mark":{"type":"text","align":"center","baseline":"alphabetic","font":"DejaVu Sans Mono","fontSize":10,"color":"#000000"},"encoding":{"text":{"field":"t"}}},
  {"data":{"name":"labR"},"mark":{"type":"text","align":"right","baseline":"alphabetic","font":"DejaVu Sans Mono","fontSize":10,"color":"#000000"},"encoding":{"text":{"field":"t"}}}
 ]},
{"width":1024,"height":107,
 "encoding":{"x":{"field":"x","type":"quantitative","scale":{"domain":[1302447,1305055],"nice":false,"zero":false},"axis":null},
  "y":{"field":"v","type":"quantitative","scale":{"domain":[0,10.7],"nice":false,"zero":false},"axis":null}},
 "layer":[
  {"data":{"name":"m1"},"transform":[{"fold":["s1","s2","s3","s4","s5","s6","s7","s8","s9","s10","s11","s12","s13","s14","s15","s16","s17","s18","s19","s20"],"as":["s","v"]}],"mark":{"type":"line","strokeWidth":1.5},"encoding":{"color":{"field":"s","type":"nominal","scale":{"domain":["s1","s2","s3","s4","s5","s6","s7","s8","s9","s10","s11","s12","s13","s14","s15","s16","s17","s18","s19","s20"],"range":["#a8a000","#000000","#e8761b","#b8860b","#f4a582","#ff69b4","#dc143c","#c71585","#66dd00","#6ab4e8","#87bde8","#191970","#a0a0a0","#8b4513","#cd853f","#ba55d3","#ff7f50","#9acd32","#9999dd","#808000"]},"legend":null}}},
  {"data":{"name":"thr"},"transform":[{"filter":"datum.p==='M1'"}],"mark":{"type":"rule","color":"#000000","strokeWidth":1.5},"encoding":{"x2":{"field":"x2"}}}
 ]},
{"width":1024,"height":71,
 "encoding":{"x":{"field":"x","type":"quantitative","scale":{"domain":[1302447,1305055],"nice":false,"zero":false},"axis":null},
  "y":{"field":"v","type":"quantitative","scale":{"domain":[0,7.1],"nice":false,"zero":false},"axis":null}},
 "layer":[
  {"data":{"name":"m2"},"transform":[{"fold":["s1","s2","s3","s4","s5","s6","s7","s8","s9","s10","s11","s12","s13","s14","s15","s16","s17","s18","s19","s20"],"as":["s","v"]}],"mark":{"type":"line","strokeWidth":1.5},"encoding":{"color":{"field":"s","type":"nominal","scale":{"domain":["s1","s2","s3","s4","s5","s6","s7","s8","s9","s10","s11","s12","s13","s14","s15","s16","s17","s18","s19","s20"],"range":["#a8a000","#000000","#e8761b","#b8860b","#f4a582","#ff69b4","#dc143c","#c71585","#66dd00","#6ab4e8","#87bde8","#191970","#a0a0a0","#8b4513","#cd853f","#ba55d3","#ff7f50","#9acd32","#9999dd","#808000"]},"legend":null}}},
  {"data":{"name":"thr"},"transform":[{"filter":"datum.p==='M2'"}],"mark":{"type":"rule","color":"#000000","strokeWidth":1.5},"encoding":{"x2":{"field":"x2"}}}
 ]},
{"width":1024,"height":72,
 "encoding":{"x":{"field":"x","type":"quantitative","scale":{"domain":[1302447,1305055],"nice":false,"zero":false},"axis":null},
  "y":{"field":"v","type":"quantitative","scale":{"domain":[0,7.2],"nice":false,"zero":false},"axis":null}},
 "layer":[
  {"data":{"name":"thr"},"transform":[{"filter":"datum.p==='G1'"}],"mark":{"type":"rule","color":"#a06464","strokeWidth":1.5},"encoding":{"x2":{"field":"x2"}}},
  {"data":{"name":"tr"},"transform":[{"fold":["G1k","G1t","G1u","G1c"],"as":["s","v"]}],"mark":{"type":"line"},"encoding":{"color":{"field":"s","type":"nominal","scale":{"domain":["G1k","G1t","G1u","G1c"],"range":["#000000","#000000","#0a8a0a","#0a8a0a"]},"legend":null},"strokeWidth":{"field":"s","type":"ordinal","scale":{"domain":["G1k","G1t","G1u","G1c"],"range":[2,1,1,2]},"legend":null}}}
 ]},
{"width":1024,"height":130,
 "encoding":{"x":{"field":"x","type":"quantitative","scale":{"domain":[1302447,1305055],"nice":false,"zero":false},"axis":null},
  "y":{"field":"v","type":"quantitative","scale":{"domain":[0,13],"nice":false,"zero":false},"axis":null}},
 "layer":[
  {"data":{"name":"thr"},"transform":[{"filter":"datum.p==='G2'"}],"mark":{"type":"rule","color":"#a06464","strokeWidth":1.5},"encoding":{"x2":{"field":"x2"}}},
  {"data":{"name":"tr"},"transform":[{"fold":["G2k","G2t","G2u","G2c"],"as":["s","v"]}],"mark":{"type":"line"},"encoding":{"color":{"field":"s","type":"nominal","scale":{"domain":["G2k","G2t","G2u","G2c"],"range":["#000000","#000000","#0a8a0a","#0a8a0a"]},"legend":null},"strokeWidth":{"field":"s","type":"ordinal","scale":{"domain":["G2k","G2t","G2u","G2c"],"range":[2,1,1,2]},"legend":null}}}
 ]},
{"width":1024,"height":130,
 "encoding":{"x":{"field":"x","type":"quantitative","scale":{"domain":[1302447,1305055],"nice":false,"zero":false},"axis":null},
  "y":{"field":"v","type":"quantitative","scale":{"domain":[0,13],"nice":false,"zero":false},"axis":null}},
 "layer":[
  {"data":{"name":"thr"},"transform":[{"filter":"datum.p==='B1'"}],"mark":{"type":"rule","color":"#a06464","strokeWidth":1.5},"encoding":{"x2":{"field":"x2"}}},
  {"data":{"name":"tr"},"transform":[{"fold":["B1k","B1t","B1u","B1c"],"as":["s","v"]}],"mark":{"type":"line"},"encoding":{"color":{"field":"s","type":"nominal","scale":{"domain":["B1k","B1t","B1u","B1c"],"range":["#000000","#000000","#2040d0","#2040d0"]},"legend":null},"strokeWidth":{"field":"s","type":"ordinal","scale":{"domain":["B1k","B1t","B1u","B1c"],"range":[2,1,1,2]},"legend":null}}}
 ]},
{"width":1024,"height":160,
 "encoding":{"x":{"field":"x","type":"quantitative","scale":{"domain":[1302447,1305055],"nice":false,"zero":false},"axis":null},
  "y":{"field":"v","type":"quantitative","scale":{"domain":[0,16],"nice":false,"zero":false},"axis":null}},
 "layer":[
  {"data":{"name":"thr"},"transform":[{"filter":"datum.p==='B2'"}],"mark":{"type":"rule","color":"#a06464","strokeWidth":1.5},"encoding":{"x2":{"field":"x2"}}},
  {"data":{"name":"tr"},"transform":[{"fold":["B2k","B2t","B2u","B2c"],"as":["s","v"]}],"mark":{"type":"line"},"encoding":{"color":{"field":"s","type":"nominal","scale":{"domain":["B2k","B2t","B2u","B2c"],"range":["#000000","#000000","#2040d0","#2040d0"]},"legend":null},"strokeWidth":{"field":"s","type":"ordinal","scale":{"domain":["B2k","B2t","B2u","B2c"],"range":[2,1,1,2]},"legend":null}}}
 ]},
{"width":1024,"height":100,
 "encoding":{"x":{"field":"x","type":"quantitative","scale":{"domain":[1302447,1305055],"nice":false,"zero":false},"axis":null},
  "y":{"field":"v","type":"quantitative","scale":{"domain":[0,10],"nice":false,"zero":false},"axis":null}},
 "layer":[
  {"data":{"name":"thr"},"transform":[{"filter":"datum.p==='R1'"}],"mark":{"type":"rule","color":"#a06464","strokeWidth":1.5},"encoding":{"x2":{"field":"x2"}}},
  {"data":{"name":"tr"},"transform":[{"fold":["R1k","R1t","R1u","R1c"],"as":["s","v"]}],"mark":{"type":"line"},"encoding":{"color":{"field":"s","type":"nominal","scale":{"domain":["R1k","R1t","R1u","R1c"],"range":["#000000","#000000","#d00000","#d00000"]},"legend":null},"strokeWidth":{"field":"s","type":"ordinal","scale":{"domain":["R1k","R1t","R1u","R1c"],"range":[2,1,1,2]},"legend":null}}}
 ]},
{"width":1024,"height":150,
 "encoding":{"x":{"field":"x","type":"quantitative","scale":{"domain":[1302447,1305055],"nice":false,"zero":false},"axis":null},
  "y":{"field":"v","type":"quantitative","scale":{"domain":[0,15],"nice":false,"zero":false},"axis":null}},
 "layer":[
  {"data":{"name":"thr"},"transform":[{"filter":"datum.p==='R2'"}],"mark":{"type":"rule","color":"#a06464","strokeWidth":1.5},"encoding":{"x2":{"field":"x2"}}},
  {"data":{"name":"tr"},"transform":[{"fold":["R2k","R2t","R2u","R2c"],"as":["s","v"]}],"mark":{"type":"line"},"encoding":{"color":{"field":"s","type":"nominal","scale":{"domain":["R2k","R2t","R2u","R2c"],"range":["#000000","#000000","#d00000","#d00000"]},"legend":null},"strokeWidth":{"field":"s","type":"ordinal","scale":{"domain":["R2k","R2t","R2u","R2c"],"range":[2,1,1,2]},"legend":null}}}
 ]},
{"width":1024,"height":100,
 "encoding":{"x":{"field":"x","type":"quantitative","scale":{"domain":[1302447,1305055],"nice":false,"zero":false},"axis":null},
  "y":{"field":"v","type":"quantitative","scale":{"domain":[0,10],"nice":false,"zero":false},"axis":null}},
 "layer":[
  {"data":{"name":"thr"},"transform":[{"filter":"datum.p==='Y1'"}],"mark":{"type":"rule","color":"#a06464","strokeWidth":1.5},"encoding":{"x2":{"field":"x2"}}},
  {"data":{"name":"tr"},"transform":[{"fold":["Y1k","Y1t","Y1u","Y1c"],"as":["s","v"]}],"mark":{"type":"line"},"encoding":{"color":{"field":"s","type":"nominal","scale":{"domain":["Y1k","Y1t","Y1u","Y1c"],"range":["#000000","#000000","#c8c800","#c8c800"]},"legend":null},"strokeWidth":{"field":"s","type":"ordinal","scale":{"domain":["Y1k","Y1t","Y1u","Y1c"],"range":[2,1,1,2]},"legend":null}}}
 ]},
{"width":1024,"height":120,
 "encoding":{"x":{"field":"x","type":"quantitative","scale":{"domain":[1302447,1305055],"nice":false,"zero":false},"axis":null},
  "y":{"field":"v","type":"quantitative","scale":{"domain":[0,12],"nice":false,"zero":false},"axis":null}},
 "layer":[
  {"data":{"name":"thr"},"transform":[{"filter":"datum.p==='Y2'"}],"mark":{"type":"rule","color":"#a06464","strokeWidth":1.5},"encoding":{"x2":{"field":"x2"}}},
  {"data":{"name":"tr"},"transform":[{"fold":["Y2k","Y2t","Y2u","Y2c"],"as":["s","v"]}],"mark":{"type":"line"},"encoding":{"color":{"field":"s","type":"nominal","scale":{"domain":["Y2k","Y2t","Y2u","Y2c"],"range":["#000000","#000000","#c8c800","#c8c800"]},"legend":null},"strokeWidth":{"field":"s","type":"ordinal","scale":{"domain":["Y2k","Y2t","Y2u","Y2c"],"range":[2,1,1,2]},"legend":null}}}
 ]}
]
}
